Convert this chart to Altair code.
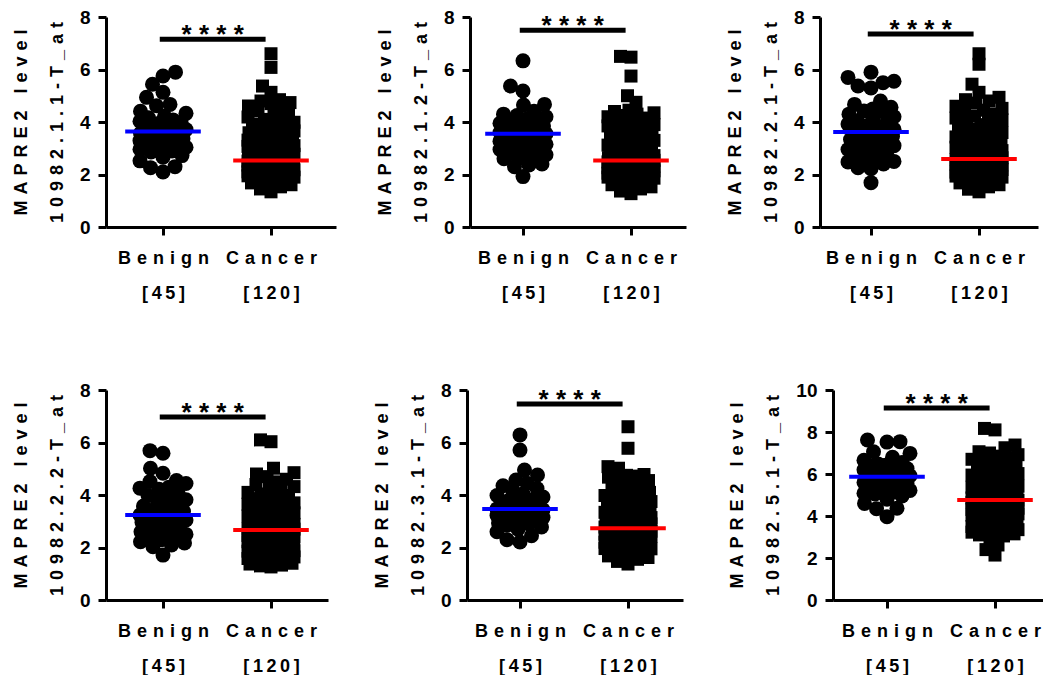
import altair as alt
import numpy as np
import pandas as pd

SP = "\u2004"   # letter tracking
TH = "\u2009"   # thin tracking for the counts

GENES = ["10982.1.1-T_at", "10982.1.2-T_at", "10982.2.1-T_at",
         "10982.2.2-T_at", "10982.3.1-T_at", "10982.5.1-T_at"]
CATEGORIES = ["Benign", "Cancer"]
COUNTS = ["[45]", "[120]"]
Y_MAX = [8, 8, 8, 8, 8, 10]
SIG_Y = [7.15, 7.5, 7.35, 6.97, 7.47, 9.14]
STARS = "* * * *"

BENIGN_1 = [5.9, 5.75, 5.44, 5.13, 4.94, 4.67, 4.62, 4.41, 4.33, 4.22,
            4.16, 4.08, 4.03, 3.98, 3.94, 3.88, 3.83, 3.79, 3.76, 3.71,
            3.68, 3.66, 3.64, 3.61, 3.57, 3.52, 3.44, 3.41, 3.36, 3.29,
            3.24, 3.21, 3.13, 3.08, 3.04, 3.0, 2.96, 2.9, 2.86, 2.72,
            2.66, 2.52, 2.3, 2.26, 2.1]
CANCER_1 = [6.6, 6.08, 5.37, 5.13, 4.85, 4.8, 4.74, 4.7, 4.61, 4.5,
            4.42, 4.3, 4.26, 4.19, 4.1, 4.06, 3.99, 3.95, 3.91, 3.84,
            3.8, 3.76, 3.7, 3.66, 3.59, 3.55, 3.51, 3.44, 3.4, 3.36,
            3.31, 3.28, 3.24, 3.2, 3.17, 3.14, 3.1, 3.07, 3.05, 3.0,
            2.98, 2.95, 2.91, 2.9, 2.87, 2.84, 2.82, 2.8, 2.77, 2.75,
            2.72, 2.7, 2.68, 2.66, 2.63, 2.62, 2.6, 2.58, 2.56, 2.54,
            2.52, 2.51, 2.5, 2.49, 2.48, 2.47, 2.46, 2.45, 2.44, 2.43,
            2.41, 2.4, 2.39, 2.38, 2.36, 2.35, 2.34, 2.33, 2.31, 2.3,
            2.29, 2.27, 2.26, 2.25, 2.23, 2.22, 2.21, 2.19, 2.18, 2.17,
            2.15, 2.14, 2.13, 2.11, 2.1, 2.09, 2.08, 2.07, 2.06, 2.05,
            2.04, 2.03, 2.02, 2.01, 2.0, 1.99, 1.98, 1.97, 1.96, 1.95,
            1.94, 1.9, 1.85, 1.8, 1.74, 1.68, 1.61, 1.53, 1.45, 1.34]

BENIGN_2 = [6.33, 5.37, 5.18, 4.67, 4.65, 4.41, 4.3, 4.25, 4.2, 4.12,
            4.05, 4.0, 3.95, 3.9, 3.85, 3.8, 3.74, 3.7, 3.66, 3.62,
            3.6, 3.57, 3.55, 3.52, 3.48, 3.42, 3.38, 3.32, 3.27, 3.2,
            3.15, 3.1, 3.05, 3.0, 2.95, 2.9, 2.82, 2.75, 2.68, 2.64,
            2.6, 2.4, 2.36, 2.3, 1.92]
CANCER_2 = [6.5, 6.47, 5.75, 5.0, 4.75, 4.45, 4.4, 4.35, 4.3, 4.25,
            4.2, 4.15, 4.1, 4.02, 3.96, 3.9, 3.85, 3.8, 3.76, 3.72,
            3.68, 3.64, 3.6, 3.56, 3.52, 3.45, 3.4, 3.35, 3.3, 3.25,
            3.2, 3.16, 3.12, 3.08, 3.04, 3.0, 2.97, 2.94, 2.91, 2.88,
            2.86, 2.84, 2.82, 2.8, 2.78, 2.76, 2.74, 2.72, 2.7, 2.68,
            2.66, 2.64, 2.62, 2.61, 2.6, 2.58, 2.57, 2.56, 2.55, 2.54,
            2.52, 2.51, 2.5, 2.49, 2.48, 2.46, 2.45, 2.44, 2.43, 2.42,
            2.4, 2.39, 2.38, 2.36, 2.35, 2.34, 2.32, 2.31, 2.3, 2.28,
            2.27, 2.26, 2.24, 2.23, 2.21, 2.2, 2.19, 2.17, 2.16, 2.14,
            2.13, 2.12, 2.1, 2.09, 2.08, 2.06, 2.05, 2.04, 2.02, 2.01,
            2.0, 1.99, 1.98, 1.97, 1.96, 1.95, 1.94, 1.93, 1.92, 1.91,
            1.9, 1.86, 1.8, 1.74, 1.68, 1.61, 1.53, 1.45, 1.37, 1.27]

BENIGN_3 = [5.9, 5.7, 5.55, 5.5, 5.37, 5.3, 4.8, 4.67, 4.56, 4.5,
            4.42, 4.4, 4.3, 4.2, 4.12, 4.05, 4.0, 3.92, 3.85, 3.78,
            3.72, 3.66, 3.62, 3.58, 3.5, 3.45, 3.38, 3.33, 3.25, 3.18,
            3.14, 3.1, 3.02, 2.95, 2.88, 2.8, 2.72, 2.6, 2.55, 2.5,
            2.48, 2.4, 2.26, 2.22, 1.69]
CANCER_3 = [6.6, 6.2, 5.44, 5.13, 4.94, 4.85, 4.8, 4.72, 4.6, 4.52,
            4.45, 4.38, 4.3, 4.22, 4.15, 4.08, 4.02, 3.96, 3.9, 3.84,
            3.78, 3.72, 3.66, 3.6, 3.54, 3.48, 3.43, 3.38, 3.33, 3.28,
            3.24, 3.2, 3.16, 3.12, 3.08, 3.04, 3.0, 2.97, 2.94, 2.91,
            2.88, 2.86, 2.84, 2.82, 2.8, 2.78, 2.76, 2.74, 2.72, 2.7,
            2.69, 2.68, 2.67, 2.66, 2.65, 2.64, 2.63, 2.62, 2.61, 2.6,
            2.58, 2.57, 2.56, 2.55, 2.54, 2.52, 2.51, 2.5, 2.48, 2.47,
            2.46, 2.44, 2.43, 2.42, 2.4, 2.39, 2.37, 2.36, 2.35, 2.33,
            2.32, 2.3, 2.29, 2.27, 2.26, 2.25, 2.23, 2.22, 2.2, 2.19,
            2.17, 2.16, 2.14, 2.13, 2.11, 2.1, 2.09, 2.07, 2.06, 2.05,
            2.04, 2.03, 2.02, 2.01, 2.0, 1.99, 1.98, 1.97, 1.96, 1.95,
            1.94, 1.9, 1.85, 1.8, 1.74, 1.68, 1.61, 1.53, 1.44, 1.34]

BENIGN_4 = [5.69, 5.59, 5.02, 4.83, 4.55, 4.51, 4.44, 4.3, 4.26, 4.22,
            4.1, 3.98, 3.9, 3.82, 3.75, 3.66, 3.58, 3.5, 3.42, 3.38,
            3.32, 3.28, 3.24, 3.2, 3.15, 3.1, 3.05, 3.0, 2.95, 2.9,
            2.85, 2.8, 2.72, 2.65, 2.6, 2.55, 2.5, 2.45, 2.38, 2.3,
            2.22, 2.17, 2.1, 2.03, 1.71]
CANCER_4 = [6.1, 6.03, 5.02, 4.85, 4.8, 4.7, 4.6, 4.5, 4.4, 4.32,
            4.25, 4.18, 4.1, 4.04, 3.98, 3.92, 3.86, 3.8, 3.75, 3.7,
            3.65, 3.6, 3.55, 3.5, 3.45, 3.4, 3.36, 3.32, 3.28, 3.24,
            3.2, 3.17, 3.14, 3.11, 3.08, 3.05, 3.02, 2.99, 2.96, 2.94,
            2.92, 2.9, 2.88, 2.86, 2.84, 2.82, 2.8, 2.78, 2.77, 2.76,
            2.75, 2.74, 2.73, 2.72, 2.71, 2.7, 2.69, 2.69, 2.68, 2.68,
            2.66, 2.64, 2.62, 2.6, 2.58, 2.56, 2.54, 2.52, 2.5, 2.48,
            2.46, 2.44, 2.42, 2.4, 2.38, 2.36, 2.34, 2.32, 2.3, 2.28,
            2.26, 2.24, 2.22, 2.2, 2.18, 2.16, 2.14, 2.12, 2.1, 2.08,
            2.06, 2.04, 2.02, 2.0, 1.98, 1.96, 1.94, 1.92, 1.9, 1.88,
            1.86, 1.84, 1.82, 1.79, 1.76, 1.73, 1.7, 1.67, 1.64, 1.61,
            1.58, 1.55, 1.51, 1.47, 1.44, 1.4, 1.37, 1.33, 1.3, 1.26]

BENIGN_5 = [6.29, 5.71, 4.95, 4.76, 4.57, 4.45, 4.35, 4.25, 4.15, 4.05,
            3.98, 3.92, 3.86, 3.8, 3.75, 3.7, 3.66, 3.62, 3.58, 3.55,
            3.52, 3.5, 3.47, 3.44, 3.4, 3.37, 3.33, 3.3, 3.26, 3.22,
            3.18, 3.14, 3.1, 3.05, 3.0, 2.96, 2.93, 2.9, 2.85, 2.78,
            2.7, 2.6, 2.45, 2.3, 2.21]
CANCER_5 = [6.6, 5.78, 5.08, 5.02, 4.78, 4.75, 4.72, 4.68, 4.62, 4.55,
            4.45, 4.35, 4.25, 4.18, 4.1, 4.04, 3.98, 3.92, 3.86, 3.8,
            3.75, 3.7, 3.65, 3.6, 3.55, 3.5, 3.46, 3.42, 3.38, 3.34,
            3.3, 3.26, 3.22, 3.18, 3.14, 3.1, 3.07, 3.04, 3.01, 2.98,
            2.96, 2.94, 2.92, 2.9, 2.88, 2.86, 2.85, 2.84, 2.83, 2.82,
            2.81, 2.8, 2.79, 2.78, 2.77, 2.76, 2.75, 2.75, 2.74, 2.74,
            2.72, 2.7, 2.69, 2.67, 2.66, 2.64, 2.62, 2.61, 2.59, 2.58,
            2.56, 2.55, 2.53, 2.51, 2.5, 2.48, 2.47, 2.45, 2.43, 2.42,
            2.4, 2.38, 2.37, 2.35, 2.33, 2.32, 2.3, 2.28, 2.27, 2.25,
            2.23, 2.22, 2.2, 2.18, 2.17, 2.15, 2.13, 2.12, 2.1, 2.08,
            2.07, 2.05, 2.04, 2.02, 2.01, 2.0, 1.99, 1.98, 1.97, 1.96,
            1.95, 1.9, 1.85, 1.8, 1.74, 1.68, 1.62, 1.55, 1.47, 1.37]

BENIGN_6 = [7.62, 7.54, 7.52, 7.06, 6.98, 6.8, 6.65, 6.55, 6.48, 6.42,
            6.38, 6.32, 6.26, 6.2, 6.15, 6.1, 6.06, 6.02, 5.98, 5.95,
            5.92, 5.9, 5.87, 5.84, 5.8, 5.76, 5.72, 5.66, 5.6, 5.55,
            5.5, 5.45, 5.4, 5.35, 5.3, 5.22, 5.15, 5.08, 5.05, 4.95,
            4.8, 4.6, 4.37, 4.35, 3.97]
CANCER_6 = [8.17, 8.1, 7.38, 7.25, 7.06, 7.0, 6.92, 6.85, 6.78, 6.7,
            6.62, 6.55, 6.48, 6.4, 6.32, 6.25, 6.18, 6.1, 6.02, 5.95,
            5.88, 5.82, 5.76, 5.7, 5.64, 5.58, 5.52, 5.47, 5.42, 5.37,
            5.32, 5.28, 5.24, 5.2, 5.16, 5.12, 5.09, 5.06, 5.03, 5.0,
            4.98, 4.96, 4.94, 4.92, 4.9, 4.88, 4.86, 4.85, 4.84, 4.83,
            4.82, 4.81, 4.8, 4.8, 4.79, 4.79, 4.78, 4.78, 4.77, 4.77,
            4.75, 4.73, 4.7, 4.67, 4.64, 4.61, 4.58, 4.55, 4.52, 4.49,
            4.46, 4.43, 4.4, 4.37, 4.34, 4.31, 4.28, 4.25, 4.22, 4.19,
            4.16, 4.13, 4.1, 4.07, 4.04, 4.01, 3.98, 3.95, 3.92, 3.89,
            3.86, 3.83, 3.8, 3.77, 3.74, 3.71, 3.68, 3.65, 3.62, 3.59,
            3.56, 3.53, 3.5, 3.47, 3.44, 3.41, 3.38, 3.35, 3.32, 3.29,
            3.26, 3.23, 3.2, 3.15, 3.1, 3.05, 2.95, 2.62, 2.4, 2.14]

BENIGN = [BENIGN_1, BENIGN_2, BENIGN_3, BENIGN_4, BENIGN_5, BENIGN_6]
CANCER = [CANCER_1, CANCER_2, CANCER_3, CANCER_4, CANCER_5, CANCER_6]

# layout (pixels)
PANEL_W = [230, 216, 218, 222, 216, 210]
PANEL_L = [57, 53, 51, 57, 53, 54]
PANEL_H = 210
PX_PER_X = 108.0
FONT = "Liberation Sans"


def track(s, sp=SP):
    return sp.join(list(s))


def swarm(values, px_per_unit, diam, max_off=23.0):
    """Beeswarm layout: place points bottom-up, nearest free slot to the centre."""
    cands = np.arange(-max_off, max_off + 0.01, 0.5)
    cands = cands[np.argsort(np.abs(cands), kind="stable")]
    order = np.argsort(values, kind="stable")
    offs = [0.0] * len(values)
    px, py = [], []
    for idx in order:
        y = values[idx] * px_per_unit
        if px:
            ax = np.array(px)
            ay = np.array(py)
            d = np.sqrt((cands[:, None] - ax[None, :]) ** 2 + (y - ay[None, :]) ** 2).min(axis=1)
            ok = np.where(d >= diam)[0]
            c = cands[ok[0]] if len(ok) else cands[int(np.argmax(d))]
        else:
            c = 0.0
        px.append(c)
        py.append(y)
        offs[idx] = float(c)
    return offs


label_expr = (
    "datum.value == 0 ? ['" + track(CATEGORIES[0]) + "', '" + track(COUNTS[0], TH) + "']"
    " : ['" + track(CATEGORIES[1]) + "', '" + track(COUNTS[1], TH) + "']"
)


def panel(i):
    benign, cancer = BENIGN[i], CANCER[i]
    ymax = Y_MAX[i]
    ppu = PANEL_H / ymax
    bo = swarm(benign, ppu, 13.0)
    co = swarm(cancer, ppu, 10.5)
    dfb = pd.DataFrame({"x": [o / PX_PER_X for o in bo], "value": benign})
    dfc = pd.DataFrame({"x": [1 + o / PX_PER_X for o in co], "value": cancer})
    med = pd.DataFrame({
        "x": [-0.35, 0.65], "x2": [0.35, 1.35],
        "value": [float(np.median(benign)), float(np.median(cancer))],
        "color": ["#0000ff", "#ff0000"],
    })
    sig = pd.DataFrame({"x": [-0.03], "x2": [0.95], "value": [SIG_Y[i]]})
    star = pd.DataFrame({"x": [0.46], "value": [SIG_Y[i]], "t": [STARS]})

    w, L = PANEL_W[i], PANEL_L[i]
    xscale = alt.Scale(domain=[-L / PX_PER_X, (w - L) / PX_PER_X], nice=False, zero=False)
    yscale = alt.Scale(domain=[0, ymax], nice=False, zero=True)
    xaxis = alt.Axis(
        values=[0, 1], labelExpr=label_expr, title=None, grid=False,
        domainColor="black", domainWidth=3, tickColor="black", tickWidth=3, tickSize=8,
        labelFont=FONT, labelFontSize=18, labelFontWeight="bold", labelColor="black",
        labelLineHeight=35, labelPadding=14, labelOverlap=False, labelBound=False,
        labelFlush=False,
    )
    yaxis = alt.Axis(
        values=list(range(0, ymax + 1, 2)), grid=False,
        title=[track("MAPRE2 level"), track(GENES[i])],
        titleFont=FONT, titleFontSize=18, titleFontWeight="bold", titleColor="black",
        titleLineHeight=36, titlePadding=13,
        domainColor="black", domainWidth=3, tickColor="black", tickWidth=3, tickSize=8,
        labelFont=FONT, labelFontSize=19, labelFontWeight="bold", labelColor="black",
        labelPadding=8, labelOverlap=False, labelFlush=False,
    )
    X = alt.X("x:Q", scale=xscale, axis=xaxis)
    Y = alt.Y("value:Q", scale=yscale, axis=yaxis)

    pb = alt.Chart(dfb).mark_point(shape="circle", size=225, filled=True, color="black",
                                   opacity=1, strokeWidth=0).encode(x=X, y=Y)
    pc = alt.Chart(dfc).mark_point(shape="square", size=169, filled=True, color="black",
                                   opacity=1, strokeWidth=0).encode(x=X, y=Y)
    mr = alt.Chart(med).mark_rule(strokeWidth=4).encode(
        x=X, x2="x2:Q", y=Y, color=alt.Color("color:N", scale=None))
    br = alt.Chart(sig).mark_rule(strokeWidth=5, color="black").encode(x=X, x2="x2:Q", y=Y)
    tx = alt.Chart(star).mark_text(font=FONT, fontSize=26, fontWeight="bold", color="black",
                                   baseline="alphabetic", align="center", dy=4).encode(
        x=X, y=Y, text="t:N")
    return alt.layer(pb, pc, mr, br, tx).properties(width=w, height=PANEL_H)


row1 = alt.hconcat(panel(0), panel(1), panel(2), spacing=40)
row2 = alt.hconcat(panel(3), panel(4), panel(5), spacing=45)
chart = alt.vconcat(row1, row2, spacing=79).properties(
    padding={"left": 4, "top": 0, "right": 0, "bottom": 0}
).configure(font=FONT).configure_view(strokeWidth=0)

chart.save("out.html", embed_options={"renderer": "svg", "actions": False})
